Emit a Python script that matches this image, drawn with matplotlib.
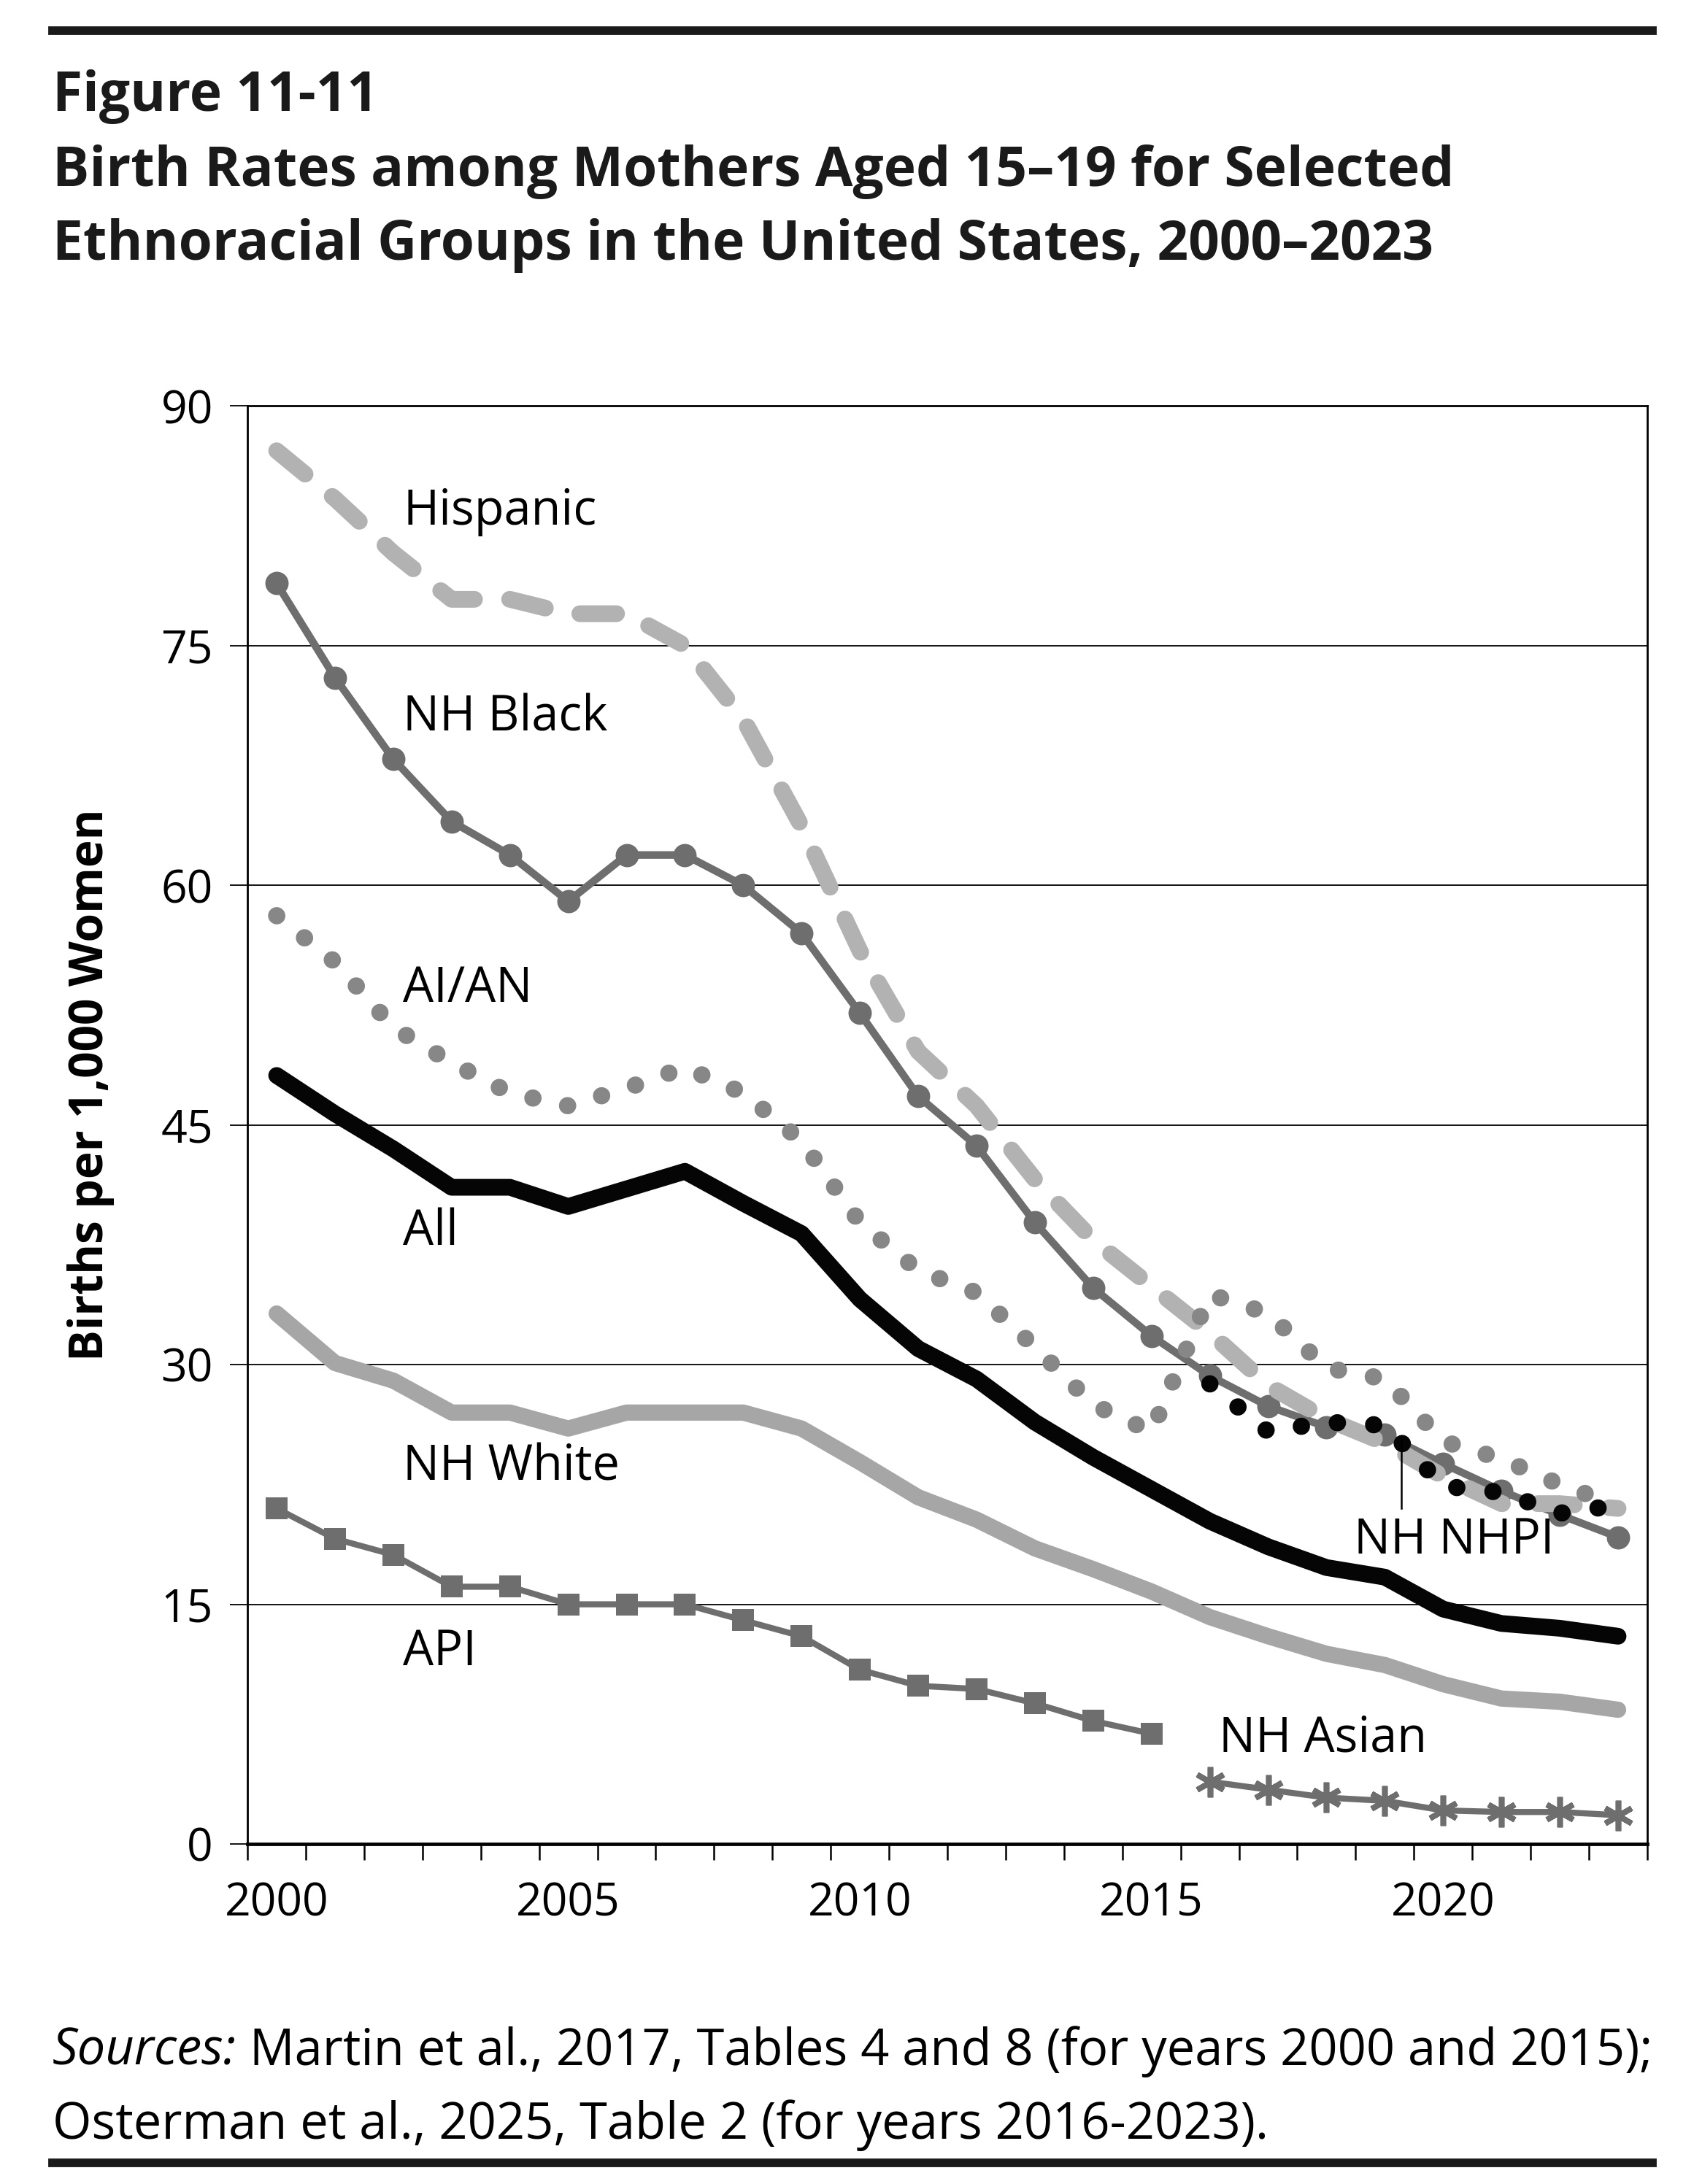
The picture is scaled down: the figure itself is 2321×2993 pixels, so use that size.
import matplotlib.pyplot as plt
from matplotlib.lines import Line2D

# ---- data ----
years = list(range(2000, 2024))
years_early = list(range(2000, 2016))
years_late = list(range(2016, 2024))

hispanic = [87.2, 84.2, 80.8, 77.9, 77.9, 77.0, 77.0, 75.0, 70.4, 63.7, 55.9, 49.6,
            46.2, 41.6, 37.8, 34.9, 32.0, 28.7, 26.6, 25.1, 23.0, 21.3, 21.3, 21.0]
nh_black = [78.9, 73.0, 67.9, 64.0, 61.9, 59.0, 61.9, 61.9, 60.0, 57.0, 52.0, 46.8,
            43.7, 38.9, 34.8, 31.8, 29.3, 27.4, 26.1, 25.6, 23.8, 22.1, 20.6, 19.2]
ai_an = [58.1, 55.2, 51.1, 48.9, 47.0, 46.2, 47.3, 48.6, 47.0, 44.0, 38.9, 35.9,
         34.5, 31.1, 27.5, 25.8, 34.4, 33.2, 29.8, 29.1, 25.2, 24.1, 22.5, 21.2]
all_groups = [48.1, 45.7, 43.5, 41.1, 41.1, 39.9, 41.0, 42.1, 40.1, 38.2, 34.1, 31.0,
              29.1, 26.4, 24.2, 22.2, 20.2, 18.6, 17.3, 16.7, 14.7, 13.8, 13.5, 13.0]
nh_white = [33.2, 30.1, 29.0, 27.0, 27.0, 26.0, 27.0, 27.0, 27.0, 26.0, 23.9, 21.7,
            20.3, 18.5, 17.2, 15.8, 14.2, 13.0, 11.9, 11.2, 10.0, 9.1, 8.9, 8.4]
api = [21.0, 19.1, 18.1, 16.1, 16.1, 15.0, 15.0, 15.0, 14.0, 13.0, 10.9, 9.9,
       9.7, 8.8, 7.7, 6.9]
nh_asian = [3.9, 3.4, 2.9, 2.7, 2.1, 2.0, 2.0, 1.8]
nh_nhpi = [28.8, 25.8, 26.4, 26.2, 22.4, 22.0, 20.7, 21.2]

yticks = [0, 15, 30, 45, 60, 75, 90]
xticks = [2000, 2005, 2010, 2015, 2020]

FONT = 'Open Sans'
DARK = '#6e6e6e'

plt.rcParams['font.family'] = [FONT, 'DejaVu Sans']

fig = plt.figure(figsize=(23.21, 29.93), dpi=100)
ax = fig.add_axes([0.1461, 0.1557, 0.8263, 0.6584])

# lines
ax.plot(years, nh_black, color=DARK, lw=7.5, marker='o', ms=23, mew=0, zorder=4,
        solid_joinstyle='round')
ax.plot(years, hispanic, color='#b2b2b2', lw=16.5, linestyle=(0, (2.2, 2.1)),
        dash_capstyle='round', dash_joinstyle='round', zorder=5)
ax.plot(years, ai_an, color='#878787', lw=17, linestyle=(0, (0.01, 2.05)),
        dash_capstyle='round', zorder=6)
ax.plot(years, nh_white, color='#a6a6a6', lw=16, solid_capstyle='round',
        solid_joinstyle='round', zorder=3)
ax.plot(years, all_groups, color='#050505', lw=16.5, solid_capstyle='round',
        solid_joinstyle='round', zorder=3)
ax.plot(years_early, api, color=DARK, lw=6, marker='s', ms=21, mew=0, zorder=4)
ax.plot(years_late, nh_asian, color=DARK, lw=6, marker=(6, 2, 0), ms=30, mew=5.5,
        zorder=4)
ax.plot(years_late, nh_nhpi, color='#050505', lw=17, linestyle=(0, (0.01, 2.1)),
        dash_capstyle='round', zorder=7)

# leader for NH NHPI
ax.plot([2019.28, 2019.28], [21.0, 25.3], color='black', lw=1.8, zorder=7)

# series labels
lab = dict(fontsize=48, va='center', ha='left', color='black', zorder=8)
ax.text(2002.17, 83.4, 'Hispanic', **lab)
ax.text(2002.17, 70.5, 'NH Black', **lab)
ax.text(2002.17, 53.5, 'AI/AN', **lab)
ax.text(2002.17, 38.3, 'All', **lab)
ax.text(2002.17, 23.6, 'NH White', **lab)
ax.text(2002.17, 12.0, 'API', **lab)
ax.text(2016.16, 6.6, 'NH Asian', **lab)
ax.text(2018.47, 19.0, 'NH NHPI', **lab)

# axes styling
ax.set_xlim(1999.5, 2023.5)
ax.set_ylim(0, 90)
ax.set_yticks(yticks)
ax.set_xticks(xticks)
ax.set_xticklabels([str(x) for x in xticks])
ax.set_xticks([1999.5 + k for k in range(25)], minor=True)
ax.tick_params(axis='x', which='major', length=0, pad=37, labelsize=45)
ax.tick_params(axis='x', which='minor', length=16, width=1.8, direction='out')
ax.tick_params(axis='y', length=17, width=1.3, pad=17, labelsize=45)
for t in ax.get_yticklabels() + ax.get_xticklabels():
    t.set_fontfamily(FONT)

for y in yticks[1:-1]:
    ax.axhline(y, color='black', lw=1.3, zorder=1)
for side in ['left', 'right', 'top']:
    ax.spines[side].set_linewidth(2.0)
ax.spines['bottom'].set_linewidth(3.4)

ax.text(-0.112, 0.528, 'Births per 1,000 Women', transform=ax.transAxes,
        rotation=90, ha='center', va='center', fontsize=46, fontweight='bold')

# ---- title block and sources ----
renderer = fig.canvas.get_renderer()


def width_of(t):
    return t.get_window_extent(renderer=renderer).width


x0 = 72 / 2321
t1 = fig.text(x0, 0.9148, 'Birth Rates among Mothers Aged 15\u201319 for Selected',
              fontsize=60, fontweight='bold', color='#1a1a1a', va='baseline')
size = 60 * 1920 / width_of(t1)
t1.set_fontsize(size)
fig.text(x0, 0.8811, 'Ethnoracial Groups in the United States, 2000\u20132023',
         fontsize=size, fontweight='bold', color='#1a1a1a', va='baseline')
fig.text(x0, 0.9492, 'Figure 11-11', fontsize=size, fontweight='bold',
         color='#1a1a1a', va='baseline')

src_a = fig.text(x0, 0.0545, 'Sources:', fontsize=40, fontstyle='italic',
                 va='baseline')
src_b = fig.text(0, 0.0545, ' Martin et al., 2017, Tables 4 and 8 (for years 2000 and 2015);',
                 fontsize=40, va='baseline')
total = width_of(src_a) + width_of(src_b)
s_size = 40 * 2187 / total
src_a.set_fontsize(s_size)
src_b.set_fontsize(s_size)
src_b.set_x(x0 + width_of(src_a) / fig.bbox.width)
fig.text(x0, 0.0207, 'Osterman et al., 2025, Table 2 (for years 2016-2023).',
         fontsize=s_size, va='baseline')

# horizontal rules
for yy in (0.986, 0.0097):
    fig.add_artist(Line2D([x0, 2264 / 2321], [yy, yy], transform=fig.transFigure,
                          color='#1a1a1a', lw=8.5))

fig.savefig('out.png', dpi=100, facecolor='white')
